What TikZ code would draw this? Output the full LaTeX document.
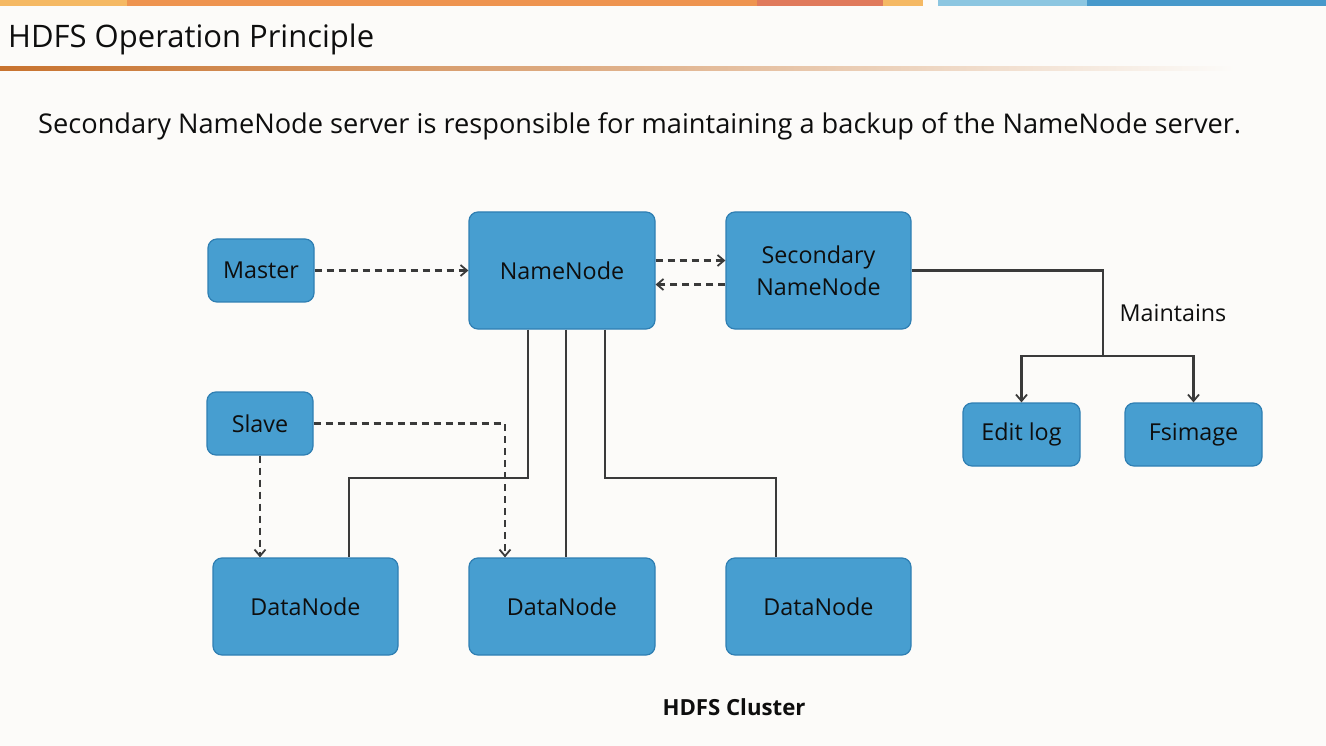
\documentclass[tikz,border=0pt]{standalone}
\usepackage{fontspec}
\setmainfont{Open Sans}
\usetikzlibrary{arrows.meta}
\definecolor{bg}{HTML}{FCFBF9}
\definecolor{boxfill}{HTML}{479ED0}
\definecolor{boxline}{HTML}{2F7FB3}
\definecolor{lnk}{HTML}{3A3A3A}
\definecolor{txt}{HTML}{0E0E0E}
\definecolor{barA}{HTML}{F5B964}
\definecolor{barB}{HTML}{EE9450}
\definecolor{barC}{HTML}{E07A5C}
\definecolor{barD}{HTML}{8CC6E1}
\definecolor{barE}{HTML}{4799CB}
\definecolor{uline}{HTML}{C8732F}
\tikzset{
  box/.style={draw=boxline, line width=1.2pt, fill=boxfill, rounded corners=9pt,
    text=txt, font=\fontsize{23.3}{32}\selectfont, align=center, inner sep=0pt},
  dashlink/.style={draw=lnk, line width=2.2pt, dash pattern=on 7pt off 5pt},
  solidlink/.style={draw=lnk, line width=2.2pt},
  tip/.style={-{Straight Barb[length=6.5pt,width=11pt,line width=1.8pt]}},
  lbl/.style={text=txt, inner sep=0pt}
}
\begin{document}
\begin{tikzpicture}[x=1pt,y=-1pt]
\useasboundingbox (0,0) rectangle (1326,746);
\fill[bg] (0,0) rectangle (1326,746);
% top bar
\fill[barA] (0,0) rectangle (127,6);
\fill[barB] (127,0) rectangle (757,6);
\fill[barC] (757,0) rectangle (883,6);
\fill[barA] (883,0) rectangle (923,6);
\fill[barD] (938,0) rectangle (1087,6);
\fill[barE] (1087,0) rectangle (1326,6);
% title
\node[lbl, anchor=base west, font=\fontsize{31}{36}\selectfont] (title) at (8,48) {HDFS Operation Principle};
\shade[left color=uline, right color=bg, middle color=uline!55!bg] (0,67) rectangle (1235,71);
\node[lbl, anchor=base west, font=\fontsize{27.2}{32}\selectfont] (sub) at (38,134) {Secondary NameNode server is responsible for maintaining a backup of the NameNode server.};
% boxes
\node[box, minimum width=106pt, minimum height=63pt] (master) at (261,270.5) {Master};
\node[box, minimum width=186pt, minimum height=117pt] (nn) at (562,270.5) {NameNode};
\node[box, minimum width=185pt, minimum height=117pt] (snn) at (818.5,270.5) {Secondary\\NameNode};
\node[box, minimum width=106pt, minimum height=63pt] (slave) at (260,423.5) {Slave};
\node[box, minimum width=185pt, minimum height=97pt] (dn1) at (305.5,606.5) {DataNode};
\node[box, minimum width=186pt, minimum height=97pt] (dn2) at (562,606.5) {DataNode};
\node[box, minimum width=185pt, minimum height=97pt] (dn3) at (818.5,606.5) {DataNode};
\node[box, minimum width=117pt, minimum height=63pt] (edit) at (1021.5,434.5) {Edit log};
\node[box, minimum width=137pt, minimum height=63pt] (fsi) at (1193.5,434.5) {Fsimage};
% labels
\node[lbl, font=\fontsize{23.3}{28}\selectfont] (maint) at (1173,313) {Maintains};
\node[lbl, font=\bfseries\fontsize{22.2}{26}\selectfont] (cluster) at (734,707) {HDFS Cluster};
% dashed links
\draw[dashlink, tip] (master.east) -- (nn.west);
\draw[dashlink, tip] ([yshift=10pt]nn.east) -- ([yshift=10pt]snn.west);
\draw[dashlink, tip] ([yshift=-14pt]snn.west) -- ([yshift=-14pt]nn.east);
\draw[dashlink, tip] (slave.south) -- (slave.south |- dn1.north);
\draw[dashlink, tip] (slave.east) -| ([xshift=-57pt]dn2.north);
% solid links
\coordinate (j1) at (528,478);
\coordinate (j3) at (605,478);
\draw[solidlink] ([xshift=-34pt]nn.south) -- (j1) -| ([xshift=43.5pt]dn1.north);
\draw[solidlink] ([xshift=4pt]nn.south) -- ([xshift=4pt]dn2.north);
\draw[solidlink] ([xshift=43pt]nn.south) -- (j3) -| ([xshift=-42.5pt]dn3.north);
\coordinate (m) at (1103,356);
\draw[solidlink] (snn.east) -| (m);
\draw[solidlink, tip] (m) -| (edit.north);
\draw[solidlink, tip] (m) -| (fsi.north);
\end{tikzpicture}
\end{document}
